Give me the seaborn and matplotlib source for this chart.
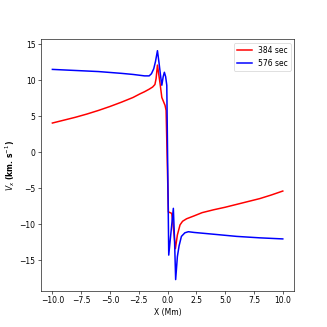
import matplotlib
matplotlib.use("Agg")
import matplotlib.pyplot as plt
import seaborn as sns
import pandas as pd

x_red = [-10, -9, -8, -7, -6, -5, -4, -3, -2.4, -2, -1.6, -1.3, -1.1, -1.0, -0.88,
         -0.65, -0.5, -0.22, -0.13, 0.07, 0.36, 0.5, 0.68, 0.85, 1.08, 1.3, 1.65,
         2.3, 3, 4, 5, 6, 7, 8, 9, 10]
v_red = [4.05, 4.45, 4.85, 5.3, 5.8, 6.35, 6.95, 7.6, 8.1, 8.4, 8.75, 9.05, 9.4, 10.2, 12.1,
         9.5, 7.6, 6.5, 5.8, -8.3, -8.5, -10.5, -13.4, -11.5, -10.1, -9.6, -9.25,
         -8.85, -8.4, -8.0, -7.65, -7.25, -6.85, -6.45, -5.95, -5.4]

x_blue = [-10, -8, -6, -4, -3, -2, -1.6, -1.4, -1.2, -1.05, -0.88, -0.75, -0.6, -0.5,
          -0.38, -0.28, -0.17, -0.07, 0.1, 0.5, 0.6, 0.7, 0.85, 1.0, 1.2, 1.5, 1.8,
          2.3, 4, 6, 8, 10]
v_blue = [11.5, 11.35, 11.2, 10.95, 10.8, 10.6, 10.6, 10.9, 11.6, 12.6, 14.1, 12.5, 10.5, 9.3,
          10.5, 11.1, 10.5, 9.3, -14.3, -7.8, -12.0, -17.7, -14.5, -13.0, -11.7, -11.2, -11.05,
          -11.15, -11.4, -11.7, -11.9, -12.05]

df = pd.concat([
    pd.DataFrame({"X": x_red, "V": v_red, "t": "384 sec"}),
    pd.DataFrame({"X": x_blue, "V": v_blue, "t": "576 sec"}),
])

fig, ax = plt.subplots(figsize=(6, 6), dpi=54.5)
sns.lineplot(data=df, x="X", y="V", hue="t", palette={"384 sec": "red", "576 sec": "blue"},
             sort=False, estimator=None, linewidth=2, ax=ax)
ax.set_xlabel("X (Mm)")
ax.set_ylabel(r"$V_x$ (km. s$^{-1}$)", fontweight="bold")
ax.set_xticks([-10, -7.5, -5, -2.5, 0, 2.5, 5, 7.5, 10])
ax.legend(title=None, loc="upper right")
fig.savefig("out.png", dpi=54.5)
